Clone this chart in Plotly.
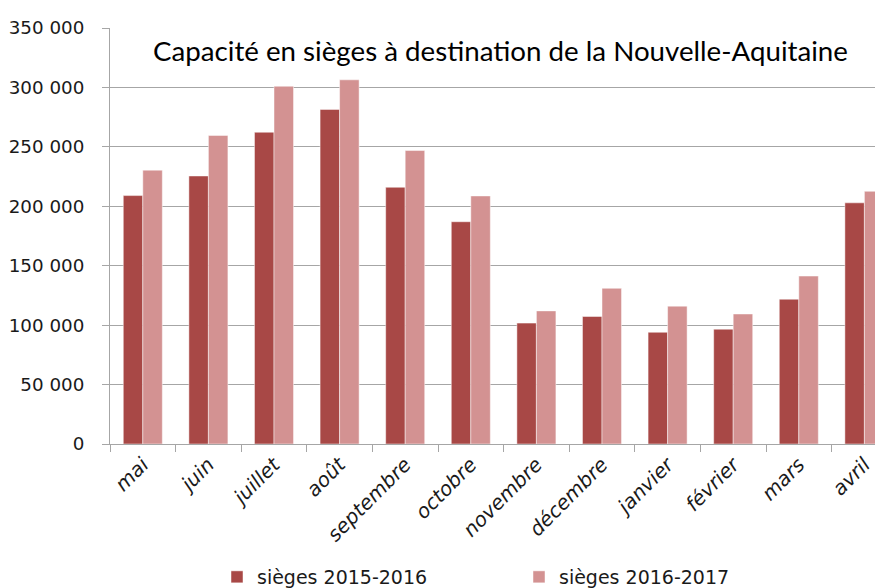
import plotly.graph_objects as go

months = ["mai", "juin", "juillet", "août", "septembre", "octobre", "novembre",
          "décembre", "janvier", "février", "mars", "avril"]
seats_2015_2016 = [209000, 225500, 262300, 281500, 216000, 187000, 101700,
                   107300, 94000, 96600, 121800, 202900]
seats_2016_2017 = [230400, 259600, 301000, 306400, 246900, 208700, 112000,
                   131000, 116000, 109400, 141300, 212600]
y_tickvals = [0, 50000, 100000, 150000, 200000, 250000, 300000, 350000]
y_ticktext = ["0", "50 000", "100 000", "150 000", "200 000", "250 000", "300 000", "350 000"]
title_text = "Capacité en sièges à destination de la Nouvelle-Aquitaine"

W, H = 883, 588
OFF = 8  # page body margin offset
L, R, T, B = 110 - OFF, 0, 28 - OFF, H - (444 - OFF)
plot_w = W - L - R
cat_px = 65.6
x_max = -0.5 + plot_w / cat_px

fig = go.Figure()
fig.add_trace(go.Bar(x=months, y=seats_2015_2016, name="sièges 2015-2016",
                     marker=dict(color="#A84846", line=dict(color="rgba(255,255,255,0.6)", width=0.8))))
fig.add_trace(go.Bar(x=months, y=seats_2016_2017, name="sièges 2016-2017",
                     marker=dict(color="#D39292", line=dict(color="rgba(255,255,255,0.6)", width=0.8))))

grey = "#A6A6A6"
fig.update_layout(
    width=W, height=H,
    margin=dict(l=L, r=R, t=T, b=B, pad=0, autoexpand=False),
    paper_bgcolor="white", plot_bgcolor="white",
    barmode="group", bargap=0.405, bargroupgap=0,
    font=dict(family="DejaVu Sans", size=19, color="#1a1a1a"),
    showlegend=True,
    legend=dict(orientation="h", x=209 / W, xref="container", xanchor="left",
                y=0.0, yref="container", yanchor="bottom",
                font=dict(family="DejaVu Sans", size=19, color="#1a1a1a"),
                entrywidth=257, itemwidth=30, traceorder="normal",
                bgcolor="rgba(0,0,0,0)"),
    xaxis=dict(type="category", range=[-0.5, x_max], tickson="boundaries",
               ticks="outside", ticklen=7, tickcolor=grey, tickwidth=1,
               showline=True, linecolor=grey, linewidth=1, showgrid=False,
               tickangle=-45, automargin=False,
               tickfont=dict(family="DejaVu Sans", size=20, style="italic", color="#1a1a1a")),
    yaxis=dict(range=[0, 350000], tickvals=y_tickvals, ticktext=y_ticktext,
               ticks="outside", ticklen=7, tickcolor=grey, tickwidth=1,
               showline=True, linecolor=grey, linewidth=1, automargin=False,
               ticklabelstandoff=14,
               showgrid=True, gridcolor=grey, gridwidth=1, zeroline=False,
               tickfont=dict(family="DejaVu Sans", size=18.3, color="#1a1a1a")),
    annotations=[dict(text=title_text, xref="paper", yref="paper",
                      x=(500 - OFF - L) / plot_w, y=(H - B - (50 - OFF)) / (H - T - B),
                      xanchor="center", yanchor="middle", showarrow=False,
                      font=dict(family="Lato", size=27.7, color="black"))],
)

fig.write_html("out.html")
